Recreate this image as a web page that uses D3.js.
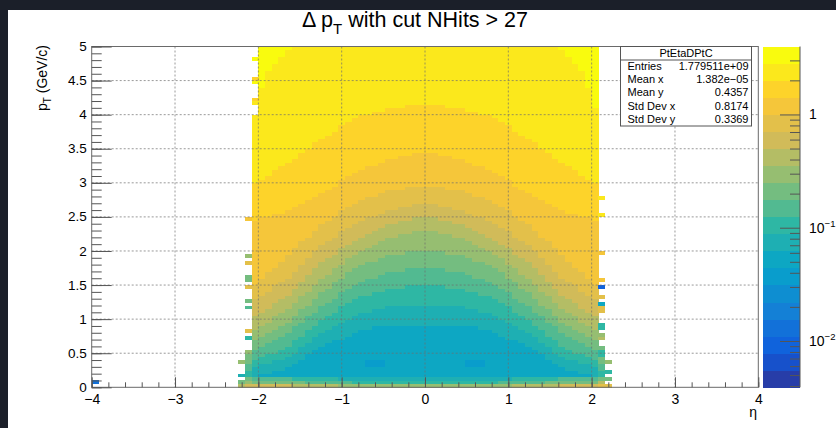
<!DOCTYPE html>
<html>
<head>
<meta charset="utf-8">
<script src="https://cdn.jsdelivr.net/npm/d3@7"></script>
<style>
  html, body { margin: 0; padding: 0; background: #1b1f29; }
  svg { display: block; font-family: "Liberation Sans", Arial, Helvetica, sans-serif; }
</style>
</head>
<body>
<svg id="chart" width="836" height="428"></svg>
<script>
// histogram binning
const etaRange = [-4, 4];
const nEtaBins = 100;
const ptRange = [0, 5];
const nPtBins = 100;
const zRange = [0.0039, 3.98];
const nContours = 20;

// first pT bin where each colour level starts, per |eta| column h = 0..25
const start08 = [18,18,18,18,18,18,18,18,17,17,16,15,14,14,13,12,11,10,8,7,6,5,5,4,4,3];
const start09 = [24,24,24,24,24,24,23,23,22,22,21,20,19,18,17,16,15,13,12,10,9,8,8,7,7,6];
const start10 = [30,30,30,29,29,29,28,28,27,27,26,25,24,22,21,20,18,17,15,14,12,11,10,10,9,8];
const start11 = [35,35,35,34,34,34,33,32,32,31,30,29,28,26,25,24,22,21,19,18,16,15,14,13,12,11];
const start12 = [40,40,40,39,39,39,38,37,37,36,35,34,32,31,29,28,26,24,23,21,19,18,17,16,15,14];
const start13 = [46,46,45,45,44,44,43,42,41,40,39,38,36,35,33,32,30,28,27,25,23,22,21,19,18,17];
const start14 = [50,50,49,49,48,48,47,46,45,44,43,42,41,39,38,37,35,33,31,29,27,26,25,23,22,21];
const start15 = [54,54,53,53,52,52,51,50,50,49,48,47,46,44,43,42,40,38,36,34,32,31,30,28,27,26];
const start16 = [59,59,59,58,58,58,57,56,56,55,54,53,52,50,49,48,46,44,43,41,39,37,35,34,32,30];
const start17 = [69,69,68,68,67,67,66,65,65,64,63,62,61,59,58,57,56,55,54,53,52,51,51,50,50,49];
const start18 = [83,83,83,82,82,82,81,81,80,80,79,78,77,75,74,73,72,70,69,67,66,65,64,62,61,60];
const start19 = [100,100,100,100,100,100,100,100,100,100,100,100,100,100,100,100,100,100,100,100,99,97,95,93,88,82];
const levelStarts = [start08, start09, start10, start11, start12, start13, start14, start15, start16, start17, start18, start19];

// lowest three pT bins, per |eta| column
const lowPtRow0 = [12,12,12,12,12,12,12,12,12,12,12,12,12,13,13,13,13,13,13,13,14,14,14,14,14,14];
const lowPtRow1 = [9,9,9,9,9,9,9,9,9,9,9,10,10,10,10,10,10,10,11,11,11,11,11,11,11,11];
const lowPtRow2 = [8,8,8,8,8,8,8,8,8,8,8,8,8,9,9,9,9,9,9,9,10,10,10,10,10,10];

// darker spots in the low-pT valley: [eta bin, pT bin]
const valleyCells = [[41,6],[42,6],[43,6],[41,7],[42,7],[43,7],[56,6],[57,6],[58,6],[56,7],[57,7],[58,7]];
const valleyLevel = 6;

// eta bin 24 is only filled up to this pT bin
const leftEdgeRows = 80;

// scattered bins outside the main block: [eta bin, pT bin, level]
const edgeCells = [
  [24,83,18],[24,84,17],[24,89,19],[24,90,17],[24,96,19],
  [23,0,14],[23,1,12],[23,2,11],[23,3,9],[23,4,9],[23,5,10],[23,6,10],[23,7,11],[23,8,11],[23,9,11],[23,10,12],
  [23,14,9],[23,16,15],[23,23,10],[23,25,11],[23,29,15],[23,31,11],[23,32,11],[23,36,15],[23,38,12],[23,49,16],
  [22,0,13],[22,1,11],[22,3,8],[22,7,12],
  [76,0,15],[76,1,13],[76,2,11],[76,3,9],[76,4,9],[76,5,10],[76,6,10],[76,7,11],[76,8,11],[76,9,9],[76,10,9],[76,11,11],
  [76,14,13],[76,15,12],[76,17,9],[76,18,9],[76,22,15],[76,23,15],[76,24,7],[76,26,15],[76,29,2],[76,31,16],[76,39,16],[76,50,18],[76,55,18],
  [77,0,15],[77,2,11],[77,4,9],[77,7,12],
  [0,1,3]
];

const xTickValues = [-4,-3,-2,-1,0,1,2,3,4];
const yTickValues = [0,0.5,1,1.5,2,2.5,3,3.5,4,4.5,5];
const zLabelValues = [[1, "1", ""], [0.1, "10", "\u22121"], [0.01, "10", "\u22122"]];

const statsTitle = "PtEtaDPtC";
const statsNames = ["Entries", "Mean x", "Mean y", "Std Dev x", "Std Dev y"];
const statsValues = ["1.779511e+09", "1.382e\u221205", "0.4357", "0.8174", "0.3369"];

// ROOT kBird palette
const birdStops = [0.0, 0.125, 0.25, 0.375, 0.5, 0.625, 0.75, 0.875, 1.0];
const birdR = [0.2082, 0.0592, 0.0780, 0.0232, 0.1802, 0.5301, 0.8186, 0.9956, 0.9764];
const birdG = [0.1664, 0.3599, 0.5041, 0.6419, 0.7178, 0.7492, 0.7328, 0.7862, 0.9832];
const birdB = [0.5293, 0.8684, 0.8385, 0.7914, 0.6425, 0.4662, 0.3499, 0.1968, 0.0539];

const svg = d3.select("#chart");
const W = 836, H = 428;
const frame = { left: 91.7, right: 758.3, top: 46.5, bottom: 387.3 };

svg.append("rect").attr("x", 8).attr("y", 10).attr("width", W - 8).attr("height", H - 10).attr("fill", "#fff");

const x = d3.scaleLinear().domain(etaRange).range([frame.left, frame.right]);
const y = d3.scaleLinear().domain(ptRange).range([frame.bottom, frame.top]);
const z = d3.scaleLog().domain(zRange).range([frame.bottom, frame.top]);

const bird = d3.scaleLinear().domain(birdStops)
  .range(birdStops.map((s, i) => d3.rgb(birdR[i] * 255, birdG[i] * 255, birdB[i] * 255)));
const levelColors = d3.range(nContours).map(k => bird(Math.floor((k + 0.99) * 255 / nContours) / 254));

const logMin = Math.log10(zRange[0]), logMax = Math.log10(zRange[1]);
const dLog = (logMax - logMin) / nContours;
const levelValue = k => Math.pow(10, logMin + (k + 0.5) * dLog);
const colorOf = v => levelColors[Math.max(0, Math.min(nContours - 1, Math.floor((Math.log10(v) - logMin) / dLog)))];

// assemble bin contents
const cells = new Map();
for (let j = 24; j <= 75; j++) {
  const h = j >= 50 ? j - 50 : 49 - j;
  const rows = j === 24 ? leftEdgeRows : nPtBins;
  for (let i = 0; i < rows; i++) {
    let lev;
    if (i === 0) lev = lowPtRow0[h];
    else if (i === 1) lev = lowPtRow1[h];
    else if (i === 2) lev = lowPtRow2[h];
    else lev = 7 + levelStarts.filter(s => i >= s[h]).length;
    cells.set(j + ":" + i, { j, i, v: levelValue(lev) });
  }
}
valleyCells.forEach(([j, i]) => cells.set(j + ":" + i, { j, i, v: levelValue(valleyLevel) }));
edgeCells.forEach(([j, i, lev]) => cells.set(j + ":" + i, { j, i, v: levelValue(lev) }));

const etaW = (etaRange[1] - etaRange[0]) / nEtaBins;
const ptW = (ptRange[1] - ptRange[0]) / nPtBins;

svg.append("g").attr("shape-rendering", "crispEdges")
  .selectAll("rect").data(Array.from(cells.values())).join("rect")
  .attr("x", d => x(etaRange[0] + d.j * etaW))
  .attr("y", d => y(ptRange[0] + (d.i + 1) * ptW))
  .attr("width", d => x(etaRange[0] + (d.j + 1) * etaW) - x(etaRange[0] + d.j * etaW) + 0.4)
  .attr("height", d => y(ptRange[0] + d.i * ptW) - y(ptRange[0] + (d.i + 1) * ptW) + 0.4)
  .attr("fill", d => colorOf(d.v));

// grid
const grid = svg.append("g").attr("stroke", "#6f6f6f").attr("stroke-width", 0.7).attr("stroke-dasharray", "2,2");
xTickValues.slice(1, -1).forEach(t => grid.append("line")
  .attr("x1", x(t)).attr("x2", x(t)).attr("y1", frame.top).attr("y2", frame.bottom));
yTickValues.slice(1, -1).forEach(t => grid.append("line")
  .attr("x1", frame.left).attr("x2", frame.right).attr("y1", y(t)).attr("y2", y(t)));

// frame
svg.append("rect").attr("x", frame.left).attr("y", frame.top)
  .attr("width", frame.right - frame.left).attr("height", frame.bottom - frame.top)
  .attr("fill", "none").attr("stroke", "#6a6a6a").attr("stroke-width", 1);

const styleAxis = g => {
  g.select(".domain").remove();
  g.selectAll(".tick line").attr("stroke", "#555");
  g.selectAll("text").attr("fill", "#000").style("font-family", "Liberation Sans, Arial, sans-serif");
};

// x axis
svg.append("g").attr("transform", `translate(0,${frame.bottom})`)
  .call(d3.axisBottom(x).tickValues(d3.range(-4, 4.001, 0.2)).tickSize(-5).tickFormat(""))
  .call(styleAxis);
svg.append("g").attr("transform", `translate(0,${frame.bottom})`)
  .call(d3.axisBottom(x).tickValues(xTickValues).tickSize(-10).tickFormat(d3.format("~g")))
  .call(styleAxis)
  .call(g => g.selectAll("text").attr("font-size", 14).attr("dy", "0").attr("y", 17));

// y axis
svg.append("g").attr("transform", `translate(${frame.left},0)`)
  .call(d3.axisLeft(y).tickValues(d3.range(0, 5.001, 0.1)).tickSize(-10).tickFormat(""))
  .call(styleAxis);
svg.append("g").attr("transform", `translate(${frame.left},0)`)
  .call(d3.axisLeft(y).tickValues(yTickValues).tickSize(-20).tickFormat(d3.format("~g")))
  .call(styleAxis)
  .call(g => g.selectAll("text").attr("font-size", 13.5).attr("x", -5).attr("dy", "0.3em"));

// palette
const pal = { left: 762.7, right: 800 };
svg.append("g").attr("shape-rendering", "crispEdges")
  .selectAll("rect").data(levelColors).join("rect")
  .attr("x", pal.left).attr("width", pal.right - pal.left)
  .attr("y", (c, k) => z(Math.pow(10, logMin + (k + 1) * dLog)))
  .attr("height", (c, k) => z(Math.pow(10, logMin + k * dLog)) - z(Math.pow(10, logMin + (k + 1) * dLog)) + 0.4)
  .attr("fill", c => c);

const zMinor = [];
[-3, -2, -1, 0].forEach(e => d3.range(2, 10).forEach(m => {
  const v = m * Math.pow(10, e);
  if (v > zRange[0] && v < zRange[1]) zMinor.push(v);
}));
svg.append("g").attr("transform", `translate(${pal.right},0)`)
  .call(d3.axisRight(z).tickValues(zMinor).tickSize(-10).tickFormat(""))
  .call(styleAxis);
svg.append("g").attr("transform", `translate(${pal.right},0)`)
  .call(d3.axisRight(z).tickValues(zLabelValues.map(d => d[0])).tickSize(-20).tickFormat(""))
  .call(styleAxis);
svg.append("line").attr("x1", pal.right).attr("x2", pal.right)
  .attr("y1", frame.top).attr("y2", frame.bottom).attr("stroke", "#555");

zLabelValues.forEach(([v, base, exp]) => {
  const t = svg.append("text").attr("x", 809).attr("y", z(v) + 5)
    .attr("font-size", 14).attr("fill", "#000").text(base);
  if (exp) t.append("tspan").attr("dy", -6).attr("font-size", 9.5).text(exp);
});

// stats box
const sb = { x: 620.5, y: 46.5, w: 131, h: 79.5 };
svg.append("rect").attr("x", sb.x).attr("y", sb.y).attr("width", sb.w).attr("height", sb.h)
  .attr("fill", "#fff").attr("stroke", "#555").attr("stroke-width", 1);
svg.append("line").attr("x1", sb.x).attr("x2", sb.x + sb.w).attr("y1", 60).attr("y2", 60)
  .attr("stroke", "#555");
svg.append("text").attr("x", sb.x + sb.w / 2).attr("y", 57).attr("text-anchor", "middle")
  .attr("font-size", 11).text(statsTitle);
statsNames.forEach((name, r) => {
  const yy = 70 + r * 13.2;
  svg.append("text").attr("x", 627.5).attr("y", yy).attr("font-size", 11).text(name);
  svg.append("text").attr("x", 748.5).attr("y", yy).attr("font-size", 11)
    .attr("text-anchor", "end").text(statsValues[r]);
});

// title
const title = svg.append("text").attr("x", 415).attr("y", 27).attr("text-anchor", "middle")
  .attr("font-size", 21.5).attr("fill", "#000");
title.append("tspan").text("\u0394 p");
title.append("tspan").attr("dy", 7).attr("font-size", 15).text("T");
title.append("tspan").attr("dy", -7).text(" with cut NHits > 27");

// axis titles
const yt = svg.append("text").attr("transform", "translate(47,45) rotate(-90)")
  .attr("text-anchor", "end").attr("font-size", 14).attr("fill", "#000");
yt.append("tspan").text("p");
yt.append("tspan").attr("dy", 4).attr("font-size", 10).text("T");
yt.append("tspan").attr("dy", -4).text(" (GeV/c)");

svg.append("text").attr("x", 757).attr("y", 417).attr("text-anchor", "end")
  .attr("font-size", 14).attr("fill", "#000").text("\u03b7");
</script>
</body>
</html>
